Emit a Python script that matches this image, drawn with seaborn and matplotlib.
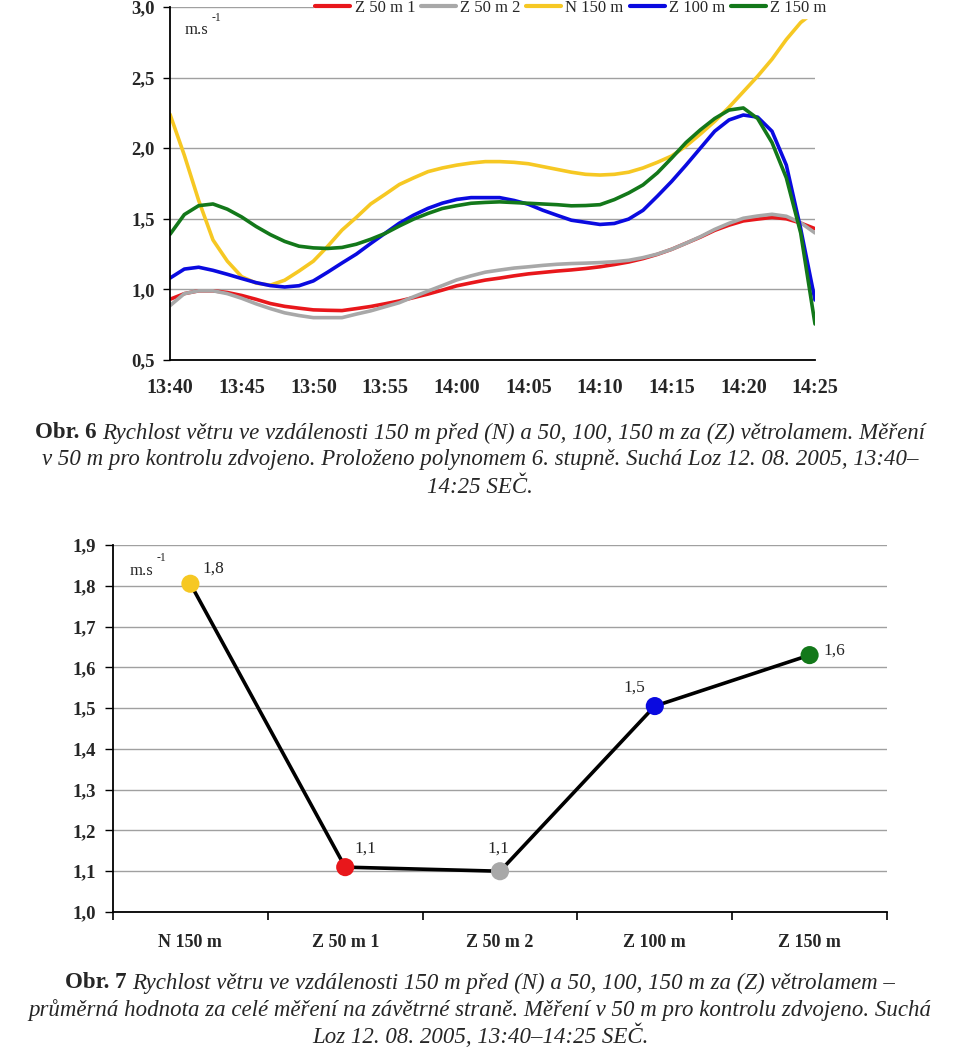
import matplotlib
matplotlib.use("Agg")
import matplotlib.pyplot as plt
import seaborn as sns
import pandas as pd

# ---- Obr. 6: wind speed over time (polynomial fits) ----
minutes = list(range(46))  # 13:40 .. 14:25
z50_1 = [0.93, 0.97, 0.99, 0.99, 0.978, 0.957, 0.93, 0.90, 0.88, 0.867, 0.855, 0.852, 0.85, 0.864,
         0.879, 0.898, 0.918, 0.942, 0.967, 0.995, 1.025, 1.046, 1.066, 1.08, 1.096, 1.11, 1.12, 1.13,
         1.138, 1.148, 1.16, 1.176, 1.194, 1.218, 1.248, 1.284, 1.327, 1.37, 1.418, 1.455, 1.485,
         1.498, 1.51, 1.50, 1.47, 1.43]
z50_2 = [0.885, 0.97, 0.99, 0.99, 0.97, 0.937, 0.898, 0.864, 0.834, 0.815, 0.80, 0.80, 0.80, 0.825,
         0.848, 0.877, 0.906, 0.948, 0.988, 1.027, 1.067, 1.096, 1.122, 1.137, 1.151, 1.16, 1.17,
         1.178, 1.183, 1.186, 1.19, 1.196, 1.206, 1.225, 1.25, 1.284, 1.327, 1.373, 1.425, 1.468,
         1.504, 1.52, 1.532, 1.518, 1.472, 1.40]
n150 = [2.24, 1.95, 1.63, 1.35, 1.20, 1.09, 1.045, 1.03, 1.065, 1.13, 1.20, 1.305, 1.42, 1.51,
        1.605, 1.673, 1.743, 1.79, 1.834, 1.86, 1.88, 1.895, 1.905, 1.905, 1.90, 1.89, 1.87, 1.85,
        1.83, 1.815, 1.81, 1.815, 1.83, 1.86, 1.90, 1.945, 2.015, 2.10, 2.19, 2.29, 2.40, 2.51,
        2.63, 2.77, 2.89, 2.97]
z100 = [1.08, 1.144, 1.157, 1.135, 1.107, 1.077, 1.048, 1.027, 1.017, 1.026, 1.06, 1.122, 1.187,
        1.25, 1.325, 1.397, 1.469, 1.526, 1.574, 1.611, 1.637, 1.65, 1.65, 1.65, 1.63, 1.603, 1.561,
        1.525, 1.49, 1.475, 1.46, 1.467, 1.498, 1.56, 1.66, 1.765, 1.88, 2.00, 2.12, 2.20, 2.235,
        2.22, 2.12, 1.88, 1.43, 0.925]
z150 = [1.39, 1.53, 1.593, 1.605, 1.568, 1.513, 1.446, 1.388, 1.34, 1.306, 1.294, 1.29, 1.297,
        1.32, 1.355, 1.396, 1.449, 1.498, 1.538, 1.573, 1.593, 1.61, 1.616, 1.62, 1.615, 1.61,
        1.605, 1.60, 1.592, 1.594, 1.60, 1.636, 1.683, 1.74, 1.825, 1.93, 2.04, 2.13, 2.21, 2.27,
        2.285, 2.21, 2.04, 1.79, 1.40, 0.755]
series_names = ["Z 50 m 1", "Z 50 m 2", "N 150 m", "Z 100 m", "Z 150 m"]
series_colors = ["#E8171B", "#A8A8A8", "#F6C823", "#0A0AE0", "#13781A"]
time_ticks = [0, 5, 10, 15, 20, 25, 30, 35, 40, 45]
time_labels = ["13:40", "13:45", "13:50", "13:55", "14:00", "14:05", "14:10", "14:15", "14:20", "14:25"]
speed_ticks_1 = [0.5, 1.0, 1.5, 2.0, 2.5, 3.0]
speed_labels_1 = ["0,5", "1,0", "1,5", "2,0", "2,5", "3,0"]

# ---- Obr. 7: mean values ----
positions = ["N 150 m", "Z 50 m 1", "Z 50 m 2", "Z 100 m", "Z 150 m"]
means = [1.805, 1.11, 1.10, 1.505, 1.63]
mean_labels = ["1,8", "1,1", "1,1", "1,5", "1,6"]
point_colors = ["#F6C823", "#E8171B", "#A8A8A8", "#0A0AE0", "#13781A"]
speed_ticks_2 = [1.0, 1.1, 1.2, 1.3, 1.4, 1.5, 1.6, 1.7, 1.8, 1.9]
speed_labels_2 = ["1,0", "1,1", "1,2", "1,3", "1,4", "1,5", "1,6", "1,7", "1,8", "1,9"]

sns.set_style("white")
plt.rcParams["font.family"] = ["Liberation Serif", "DejaVu Serif"]

fig = plt.figure(figsize=(9.6, 10.49), dpi=100)
GRID = "#a0a0a0"

# ================= top chart =================
ax1 = fig.add_axes([170 / 960, 1 - 360 / 1049, 645 / 960, 353 / 1049])
df = pd.DataFrame({
    "min": minutes * 5,
    "v": z50_1 + z50_2 + n150 + z100 + z150,
    "s": sum([[n] * len(minutes) for n in series_names], []),
})
sns.lineplot(data=df, x="min", y="v", hue="s", hue_order=series_names,
             palette=series_colors, linewidth=2.6, ax=ax1, legend=False)
ax1.set_xlim(0, 45)
ax1.set_ylim(0.5, 3.0)
ax1.set_yticks(speed_ticks_1)
ax1.set_yticklabels(speed_labels_1, fontweight="bold", fontsize=13.5)
ax1.set_xticks(time_ticks)
ax1.set_xticklabels(time_labels, fontweight="bold", fontsize=14.5)
ax1.tick_params(axis="x", length=0, pad=13)
ax1.tick_params(axis="y", length=5, width=1, direction="out", color="black", left=True, pad=6)
ax1.yaxis.grid(True, color=GRID, linewidth=1.0)
ax1.set_axisbelow(True)
for s in ["top", "right"]:
    ax1.spines[s].set_visible(False)
for s in ["left", "bottom"]:
    ax1.spines[s].set_color("black")
    ax1.spines[s].set_linewidth(1.3)
ax1.set_xlabel("")
ax1.set_ylabel("")

handles = [plt.Line2D([], [], color=c, lw=3) for c in series_colors]
leg = ax1.legend(handles, series_names, ncol=5, loc="center right",
                 bbox_to_anchor=(828 / 960, 1 - 8 / 1049), bbox_transform=fig.transFigure,
                 frameon=True, fancybox=False, edgecolor="white", framealpha=1,
                 fontsize=12, handlelength=2.1, handletextpad=0.25, columnspacing=0.35,
                 borderpad=0.1, borderaxespad=0)
fig.text(185 / 960, 1 - 30 / 1049, "m.s", fontsize=12, va="center")
fig.text(212 / 960, 1 - 18 / 1049, "-1", fontsize=8.5, va="center")

# ================= bottom chart =================
ax2 = fig.add_axes([113 / 960, 1 - 912 / 1049, 774 / 960, 367 / 1049])
df2 = pd.DataFrame({"pos": positions, "v": means})
sns.lineplot(data=df2, x="pos", y="v", color="black", linewidth=2.6, sort=False, ax=ax2)
sns.scatterplot(data=df2, x="pos", y="v", hue="pos", palette=point_colors, s=170,
                edgecolor="none", zorder=5, legend=False, ax=ax2)
label_offsets = [(9, 11), (6.5, 13), (-1, 16), (-7, 13), (10, 3)]
label_align = ["left", "left", "center", "right", "left"]
for i, (v, lab) in enumerate(zip(means, mean_labels)):
    ax2.annotate(lab, (i, v), xytext=label_offsets[i], textcoords="offset points",
                 ha=label_align[i], va="center", fontsize=12.5)
ax2.set_xlim(-0.5, 4.5)
ax2.set_ylim(1.0, 1.9)
ax2.set_yticks(speed_ticks_2)
ax2.set_yticklabels(speed_labels_2, fontweight="bold", fontsize=13.5)
ax2.set_xticks(range(len(positions)))
ax2.set_xticklabels(positions, fontweight="bold", fontsize=13)
ax2.set_xticks([-0.5, 0.5, 1.5, 2.5, 3.5, 4.5], minor=True)
ax2.tick_params(axis="x", which="major", length=0, pad=16)
ax2.tick_params(axis="x", which="minor", length=6, width=1.2, direction="out", color="black", bottom=True)
ax2.tick_params(axis="y", length=6, width=1, direction="out", color="black", left=True, pad=6)
ax2.yaxis.grid(True, color=GRID, linewidth=1.0)
ax2.set_axisbelow(True)
for s in ["top", "right"]:
    ax2.spines[s].set_visible(False)
for s in ["left", "bottom"]:
    ax2.spines[s].set_color("black")
    ax2.spines[s].set_linewidth(1.3)
ax2.set_xlabel("")
ax2.set_ylabel("")
fig.text(130 / 960, 1 - 571 / 1049, "m.s", fontsize=12, va="center")
fig.text(157 / 960, 1 - 558 / 1049, "-1", fontsize=8.5, va="center")

# ================= captions =================
renderer = fig.canvas.get_renderer()


def caption_line(y_px, parts, size=16.5):
    texts = [fig.text(0, 1 - y_px / 1049, t, fontsize=size, fontweight=w, fontstyle=st, va="center")
             for t, w, st in parts]
    widths = [t.get_window_extent(renderer).width for t in texts]
    x = (960 - sum(widths)) / 2
    for t, w in zip(texts, widths):
        t.set_x(x / 960)
        x += w


caption_line(433, [("Obr. 6 ", "bold", "normal"),
                   ("Rychlost větru ve vzdálenosti 150 m před (N) a 50, 100, 150 m za (Z) větrolamem. Měření",
                    "normal", "italic")])
caption_line(460, [("v 50 m pro kontrolu zdvojeno. Proloženo polynomem 6. stupně. Suchá Loz 12. 08. 2005, 13:40–",
                    "normal", "italic")])
caption_line(488, [("14:25 SEČ.", "normal", "italic")])

caption_line(983, [("Obr. 7 ", "bold", "normal"),
                   ("Rychlost větru ve vzdálenosti 150 m před (N) a 50, 100, 150 m za (Z) větrolamem –",
                    "normal", "italic")])
caption_line(1010, [("průměrná hodnota za celé měření na závětrné straně. Měření v 50 m pro kontrolu zdvojeno. Suchá",
                     "normal", "italic")])
caption_line(1036, [("Loz 12. 08. 2005, 13:40–14:25 SEČ.", "normal", "italic")])

fig.savefig("out.png", dpi=100)
